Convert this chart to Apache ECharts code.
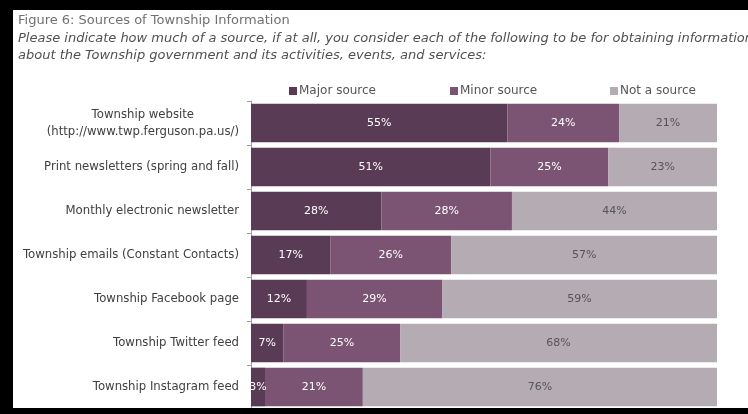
<!DOCTYPE html>
<html><head><meta charset="utf-8">
<script src="https://cdn.jsdelivr.net/npm/echarts@6/dist/echarts.min.js"></script>
<style>html,body{margin:0;padding:0;background:#fff}#c{width:748px;height:414px}</style>
</head><body><div id="c"></div>
<script>
const categories = [
  'Township website\n(http://www.twp.ferguson.pa.us/)',
  'Print newsletters (spring and fall)',
  'Monthly electronic newsletter',
  'Township emails (Constant Contacts)',
  'Township Facebook page',
  'Township Twitter feed',
  'Township Instagram feed'
];
const seriesNames = ['Major source', 'Minor source', 'Not a source'];
// values; labels show rounded percentages
const majorSource = [55, 51.4, 28, 17, 12, 7, 3];
const minorSource = [24, 25.3, 28, 26, 29, 25, 21];
const notASource = [21, 23.3, 44, 57, 59, 68, 76];
const titleLine1 = 'Figure 6: Sources of Township Information';
const titleLine2 = 'Please indicate how much of a source, if at all, you consider each of the following to be for obtaining information';
const titleLine3 = 'about the Township government and its activities, events, and services:';

const colors = ['#5a3b56', '#7b5473', '#b4abb3'];
const labelColors = ['#ffffff', '#ffffff', '#555555'];
const values = [majorSource, minorSource, notASource];
const legendLeft = [284, 445, 605];
const FONT = 'Tahoma, "DejaVu Sans", Verdana, sans-serif';

const chart = echarts.init(document.getElementById('c'));
chart.setOption({
  backgroundColor: '#ffffff',
  animation: false,
  textStyle: { fontFamily: FONT },
  graphic: [
    { type: 'text', left: 18, top: 14, style: { text: titleLine1, fill: '#707070', font: '13px ' + FONT } },
    { type: 'text', left: 18, top: 32, style: { text: titleLine2, fill: '#505050', font: 'italic 13px ' + FONT } },
    { type: 'text', left: 18, top: 49, style: { text: titleLine3, fill: '#505050', font: 'italic 13px ' + FONT } },
    { type: 'rect', shape: { x: 0, y: 0, width: 748, height: 10 }, style: { fill: '#000' }, z: 100 },
    { type: 'rect', shape: { x: 0, y: 0, width: 13, height: 414 }, style: { fill: '#000' }, z: 100 },
    { type: 'rect', shape: { x: 0, y: 408, width: 748, height: 6 }, style: { fill: '#000' }, z: 100 }
  ],
  legend: seriesNames.map((n, i) => ({
    data: [n], left: legendLeft[i], top: 80, itemWidth: 8, itemHeight: 8, itemGap: 0,
    icon: 'rect', textStyle: { color: '#555', fontSize: 12, fontFamily: FONT, padding: [0, 0, 0, -3] }
  })),
  grid: { left: 251, right: 31, top: 101, bottom: 5, containLabel: false },
  xAxis: { type: 'value', min: 0, max: 100, show: false },
  yAxis: {
    type: 'category', data: categories, inverse: true,
    axisLine: { show: true, lineStyle: { color: '#a0a0a0', width: 1 } },
    axisTick: { show: true, length: 4, lineStyle: { color: '#a0a0a0' } },
    axisLabel: {
      margin: 12, color: '#404040', fontSize: 11.7, fontFamily: FONT, lineHeight: 17,
      formatter: function (v) {
        if (v.indexOf('\n') >= 0) {
          return v.split('\n').map(s => '{c|' + s + '}').join('\n');
        }
        return v;
      },
      rich: { c: { align: 'center', color: '#404040', fontSize: 11.7, fontFamily: FONT, lineHeight: 17 } }
    }
  },
  series: seriesNames.map((n, i) => ({
    name: n, type: 'bar', stack: 'total', data: values[i], barCategoryGap: '12%',
    itemStyle: { color: colors[i] },
    label: {
      show: true, position: 'inside', color: labelColors[i], fontSize: 11, fontFamily: FONT,
      formatter: p => Math.round(p.value) + '%'
    }
  }))
});
</script></body></html>
